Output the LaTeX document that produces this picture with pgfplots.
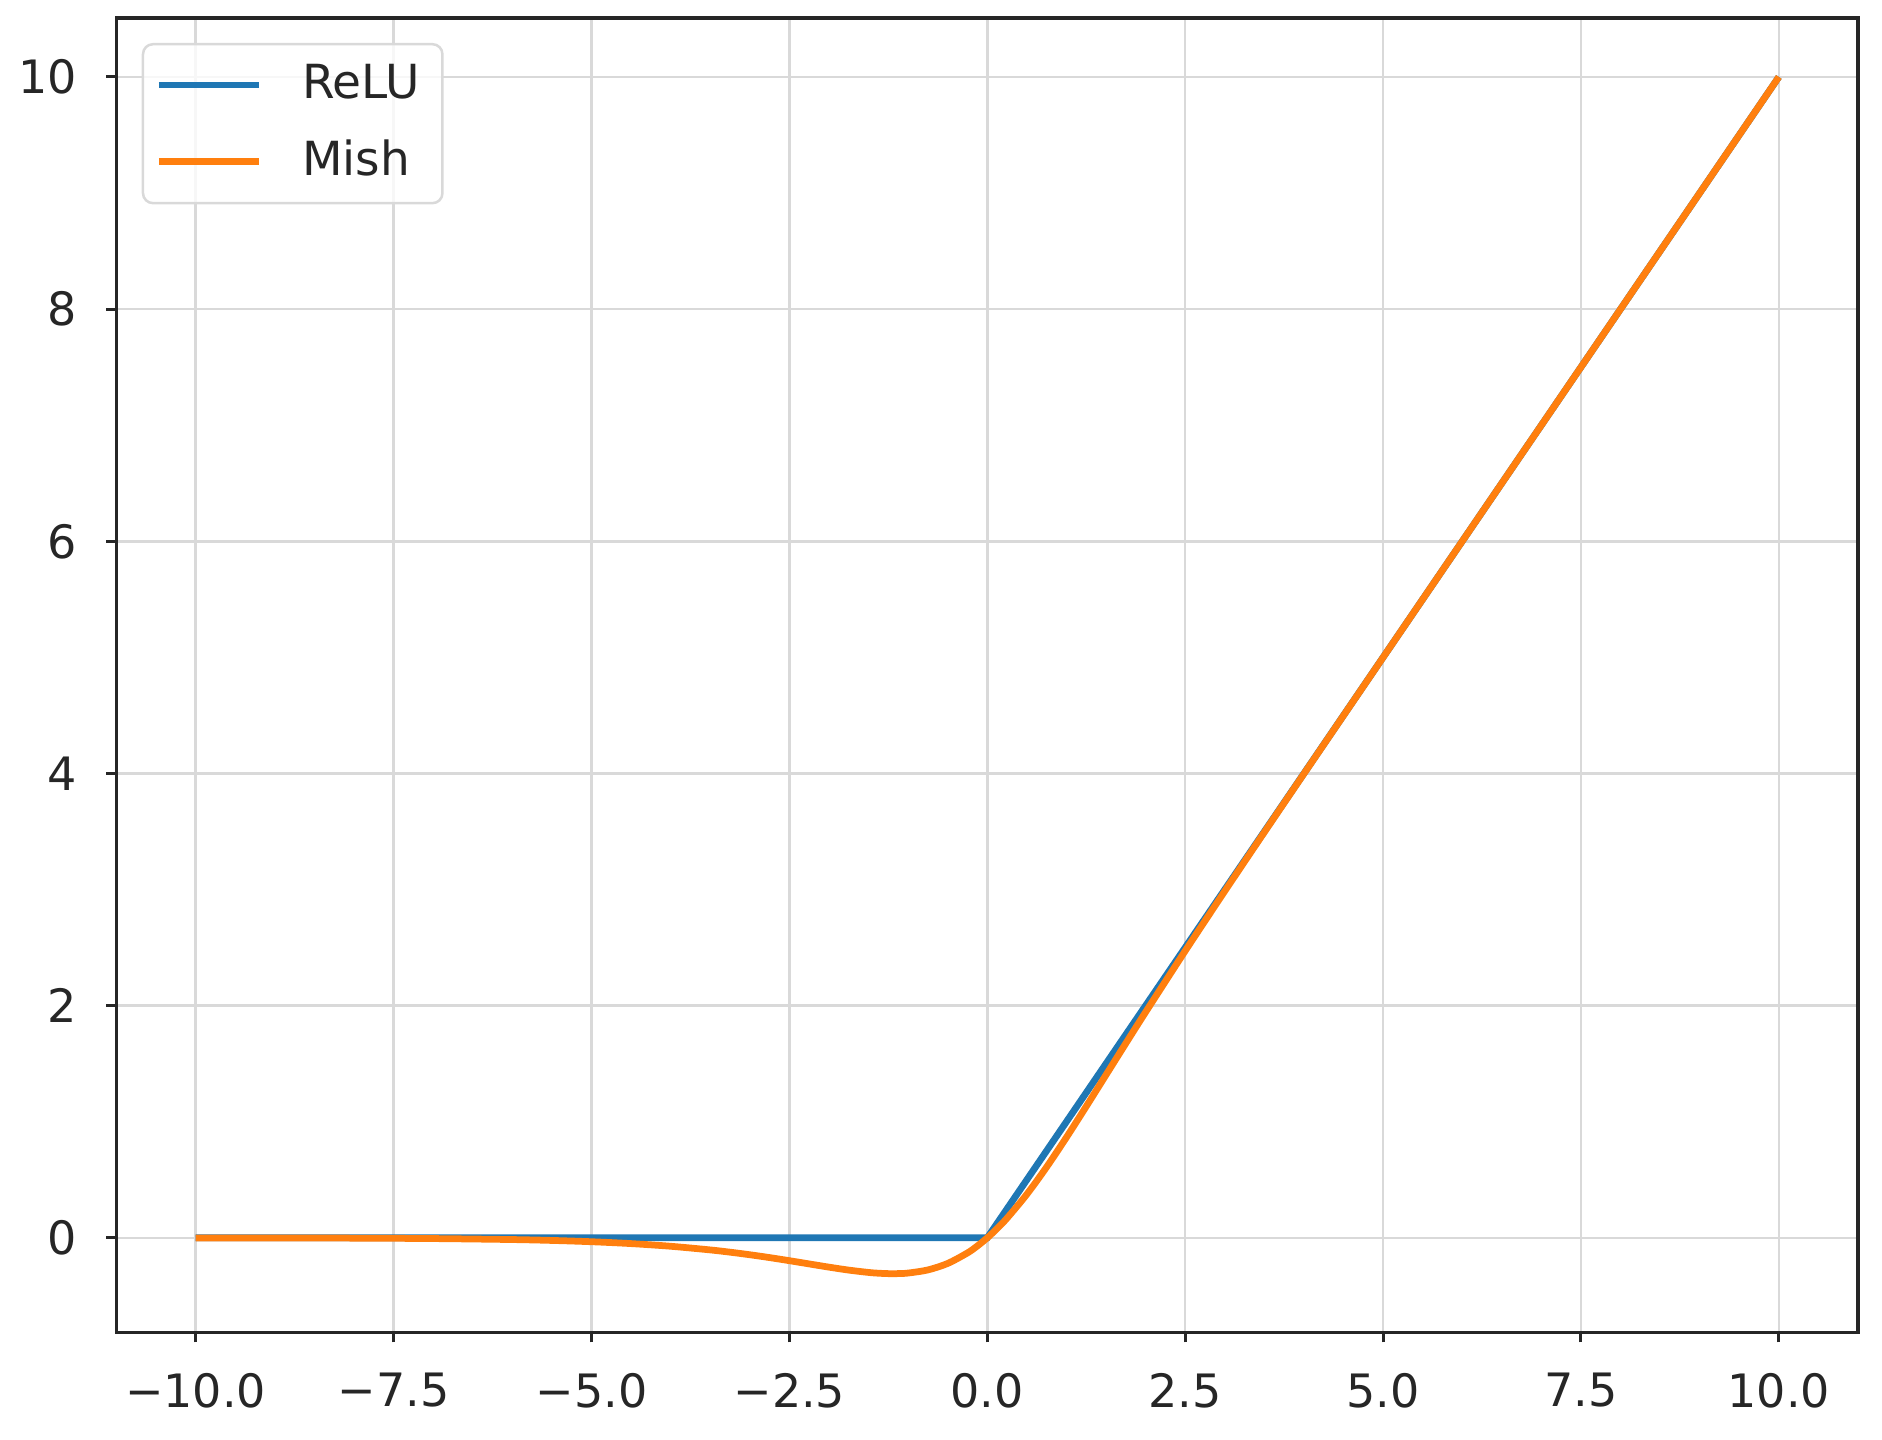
\documentclass[border=0pt]{standalone}
\usepackage{fontspec}
\setmainfont{DejaVu Sans}
\usepackage{pgfplots}
\pgfplotsset{compat=1.18}
\definecolor{mblue}{HTML}{1F77B4}
\definecolor{morange}{HTML}{FF7F0E}
\definecolor{gridc}{HTML}{D9D9D9}
\definecolor{txt}{HTML}{262626}
\begin{document}
\begin{tikzpicture}
\begin{axis}[
  scale only axis,
  width=348.3pt, height=262.9pt,
  xmin=-11, xmax=11, ymin=-0.8154, ymax=10.5077,
  xtick={-10,-7.5,-5,-2.5,0,2.5,5,7.5,10},
  xticklabels={−10.0,−7.5,−5.0,−2.5,0.0,2.5,5.0,7.5,10.0},
  ytick={0,2,4,6,8,10},
  yticklabels={0,2,4,6,8,10},
  tick align=outside,
  major tick length=2pt,
  tick style={line width=0.6pt, black!85},
  xtick pos=bottom, ytick pos=left,
  axis line style={line width=0.7pt, black!85},
  grid=major,
  major grid style={line width=0.5pt, gridc},
  ticklabel style={font=\fontsize{9.2}{11}\selectfont, text=txt},
  xticklabel style={yshift=-2.6pt},
  yticklabel style={xshift=-2.4pt},
  legend style={at={(0.0145,0.981)}, anchor=north west, draw=gridc, line width=0.5pt,
    rounded corners=2pt, fill=white, fill opacity=0.8, text opacity=1,
    font=\fontsize{9.4}{11}\selectfont, text=txt, inner xsep=2.5pt, inner ysep=2pt,
    row sep=2.8pt, cells={anchor=west}},
  legend image code/.code={\draw[#1] (0pt,0pt) -- (20pt,0pt);},
  legend cell align=left,
]
\addplot[mblue, line width=1.35pt] coordinates {(-10,0) (0,0) (10,10)};
\addlegendentry{\hspace{6pt}ReLU}
\addplot[morange, line width=1.35pt, smooth] coordinates {
(-10,-0.000454) (-9,-0.00111) (-8,-0.00268) (-7,-0.00638) (-6,-0.01486)
(-5.5,-0.02242) (-5,-0.03357) (-4.5,-0.04972) (-4,-0.07259) (-3.5,-0.10409)
(-3.25,-0.12357) (-3,-0.14565) (-2.75,-0.17020) (-2.5,-0.19681) (-2.25,-0.22471)
(-2,-0.25250) (-1.75,-0.27802) (-1.5,-0.29811) (-1.375,-0.30480) (-1.25,-0.30842)
(-1.125,-0.30817) (-1,-0.30340) (-0.75,-0.27648) (-0.5,-0.22065) (-0.25,-0.12995)
(-0.125,-0.06998) (0,0) (0.125,0.07996) (0.25,0.16958) (0.5,0.37524) (0.75,0.61003)
(1,0.86510) (1.25,1.13187) (1.5,1.40339) (1.75,1.67493) (2,1.94397) (2.5,2.47140)
(3,2.98653) (3.5,3.49398) (4,3.99741) (5,4.99955) (6,5.99997) (8,8) (10,10)};
\addlegendentry{\hspace{6pt}Mish}
\end{axis}
\path ([shift={(-23.3pt,-21.4pt)}]current axis.south west) rectangle ([shift={(4.8pt,3.6pt)}]current axis.north east);
\end{tikzpicture}
\end{document}
